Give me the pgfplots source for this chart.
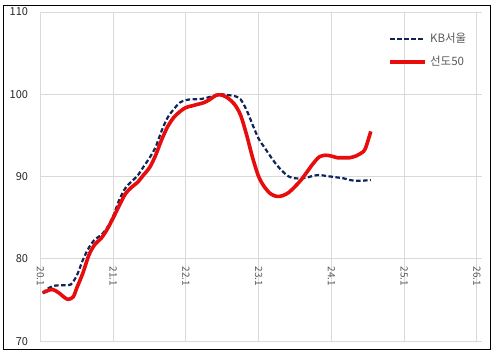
\documentclass[border=0pt]{standalone}
\usepackage{fontspec}
\setmainfont{Noto Sans CJK KR}
\usepackage{pgfplots}
\pgfplotsset{compat=1.18}
\definecolor{kbblue}{RGB}{15,37,87}
\definecolor{sdred}{RGB}{232,12,12}
\definecolor{gridgray}{RGB}{217,217,217}
\definecolor{labgray}{RGB}{89,89,89}
\begin{document}
\begin{tikzpicture}
\begin{axis}[
  scale only axis,
  width=441.5pt, height=329.3pt,
  xmin=0, xmax=72.85, ymin=70, ymax=110,
  xtick={0,12,24,36,48,60,72},
  xticklabels={20.1,21.1,22.1,23.1,24.1,25.1,26.1},
  ytick={70,80,90,100,110},
  grid=major,
  major grid style={draw=gridgray, line width=1pt},
  axis line style={draw=none},
  major tick length=0pt,
  /pgf/number format/assume math mode=true,
  yticklabel style={font=\fontsize{11}{13}\selectfont, text=black!85, xshift=-9pt},
  xticklabel style={font=\fontsize{10}{12}\selectfont, text=labgray, yshift=78pt, rotate=-90, anchor=west},
  legend style={at={(axis cs:57.4,107.8)}, anchor=north west, draw=none, fill=none,
    inner sep=0pt, row sep=6pt, font=\fontsize{11.5}{13}\selectfont, text=labgray,
    nodes={inner sep=3pt}},
  legend cell align=left,
  legend image code/.code={\draw[#1] (0pt,0pt) -- (35pt,0pt);},
]
\addplot[kbblue, line width=2.2pt, dash pattern=on 4.5pt off 2.5pt, smooth] coordinates {
(0.4,75.8) (1,76.3) (2,76.7) (3,76.8) (4,76.8) (5,76.9) (6,78.0) (7,79.9) (8,81.4) (9,82.4)
(10,82.9) (11,83.8) (12,85.2) (13,87.2) (14,88.6) (15,89.4) (16,90.1) (17,91.2) (18,92.3) (19,93.6)
(20,95.6) (21,97.2) (22,98.2) (23,99.0) (24,99.3) (25,99.4) (26,99.4) (27,99.5) (28,99.7) (29,99.9)
(30,100.0) (31,99.9) (32,99.8) (33,99.4) (34,98.1) (35,96.3) (36,94.6) (37,93.5) (38,92.4) (39,91.4)
(40,90.6) (41,90.0) (42,89.8) (43,89.8) (44,89.9) (45,90.1) (46,90.2) (47,90.1) (48,90.0) (49,89.9)
(50,89.8) (51,89.6) (52,89.5) (53,89.5) (54.5,89.6)
};
\addlegendentry{KB서울}
\addplot[sdred, line width=3.6pt, smooth] coordinates {
(0.4,75.9) (1,76.1) (2,76.3) (3,75.9) (4,75.3) (4.6,75.1) (5.4,75.4) (6,76.5) (7,78.3) (8,80.5)
(9,81.8) (10,82.5) (11,83.6) (12,85.0) (13,86.5) (14,87.9) (15,88.7) (16,89.3) (17,90.2) (18,91.1)
(19,92.6) (20,94.5) (21,96.1) (22,97.2) (23,97.9) (24,98.4) (25,98.6) (26,98.8) (27,99.0) (28,99.4)
(29,99.9) (30,99.9) (31,99.5) (32,98.8) (33,97.5) (34,95.1) (35,92.3) (36,90.0) (37,88.7) (38,87.9)
(39,87.6) (40,87.7) (41,88.1) (42,88.8) (43,89.6) (44,90.6) (45,91.6) (46,92.4) (47,92.6) (48,92.5)
(49,92.3) (50,92.3) (51,92.3) (52,92.5) (53,92.9) (53.6,93.4) (54.5,95.5)
};
\addlegendentry{선도50}
\end{axis}
\draw[black, line width=1pt] (-37.2pt,336pt) rectangle (449.5pt,-7.7pt);
\path (-40.5pt,-15.7pt) rectangle (459.5pt,341.3pt);
\end{tikzpicture}
\end{document}
